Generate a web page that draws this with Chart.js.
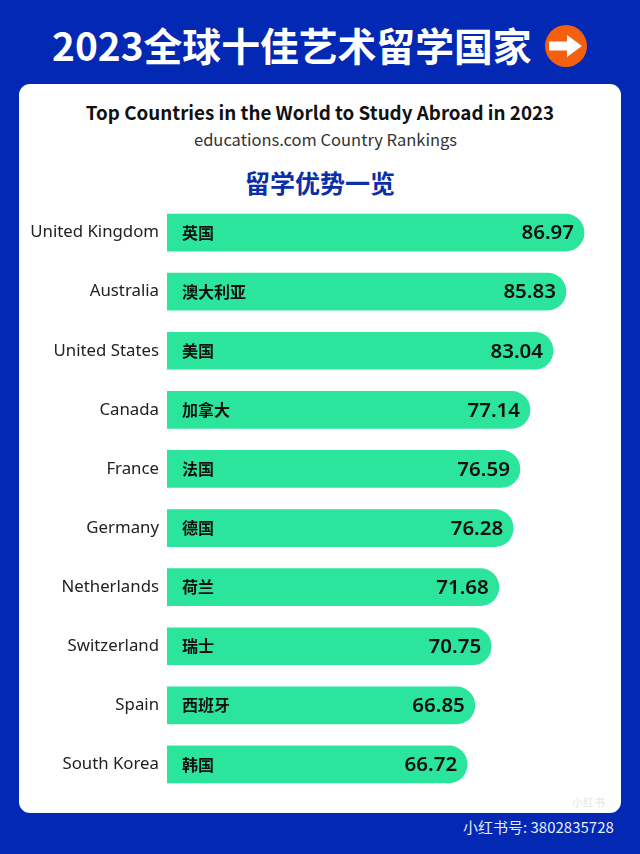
<!DOCTYPE html>
<html lang="zh">
<head>
<meta charset="utf-8">
<title>2023全球十佳艺术留学国家</title>
<script src="https://cdn.jsdelivr.net/npm/chart.js@4"></script>
<style>
    html, body { margin: 0; padding: 0; }
    body { position: relative; width: 640px; height: 854px; overflow: hidden; background: #0228b4; font-family: "Noto Sans CJK SC", "Noto Sans", sans-serif; }
    .abs { position: absolute; white-space: nowrap; line-height: 1; }
    .center { left: 0; width: 640px; text-align: center; }
    #headline { left: 52px; top: 25px; font-size: 38.8px; font-weight: 700; color: #fff; }
    #arrow { position: absolute; left: 544px; top: 25px; }
    #card { position: absolute; left: 19px; top: 84px; width: 602px; height: 729px; background: #fff; border-radius: 11px; }
    #title { top: 103px; font-size: 18.8px; font-weight: 700; color: #111; }
    #subtitle { left: 194px; top: 131px; font-size: 16.5px; color: #333; }
    #section { top: 170px; font-size: 25px; font-weight: 700; color: #0a2fa8; }
    #footer { left: 463px; top: 819px; font-size: 15px; color: #e6ecfa; }
    #mark { left: 572px; top: 797px; font-size: 11px; color: #e4e4e4; }
    canvas { position: absolute; left: 0; top: 0; }
</style>
</head>
<body>
<div id="headline" class="abs">2023全球十佳艺术留学国家</div>
<svg id="arrow" width="44" height="44" viewBox="0 0 44 44">
    <circle cx="22" cy="21" r="21" fill="#f4600f"/>
    <path d="M5 16.5H23V10L38 21L23 32V25.5H5Z" fill="#fff"/>
</svg>
<div id="card"></div>
<div id="title" class="abs center">Top Countries in the World to Study Abroad in 2023</div>
<div id="subtitle" class="abs">educations.com Country Rankings</div>
<div id="section" class="abs center">留学优势一览</div>
<div id="mark" class="abs">小红书</div>
<div id="footer" class="abs">小红书号: 3802835728</div>
<canvas id="rankChart" width="640" height="854"></canvas>

<script>
const countries = ['United Kingdom', 'Australia', 'United States', 'Canada', 'France', 'Germany', 'Netherlands', 'Switzerland', 'Spain', 'South Korea'];
const chineseNames = ['英国', '澳大利亚', '美国', '加拿大', '法国', '德国', '荷兰', '瑞士', '西班牙', '韩国'];
// Printed scores
const scores = ['86.97', '85.83', '83.04', '77.14', '76.59', '76.28', '71.68', '70.75', '66.85', '66.72'];
// Bar lengths as drawn in the picture; the original artwork is not strictly proportional to the scores
const barLengths = [86.97, 83.2, 80.5, 75.7, 73.6, 72.2, 69.2, 67.6, 64.2, 62.6];

// Writes the Chinese name at the start of each bar and the score at its end
const barTextPlugin = {
    id: 'barText',
    afterDatasetsDraw(chart) {
        const ctx = chart.ctx;
        ctx.save();
        ctx.fillStyle = '#111';
        ctx.textBaseline = 'middle';
        chart.getDatasetMeta(0).data.forEach(function(bar, i) {
            ctx.textAlign = 'left';
            ctx.font = '700 16px "Noto Sans CJK SC"';
            ctx.fillText(chineseNames[i], chart.chartArea.left + 15, bar.y);
            ctx.textAlign = 'right';
            ctx.font = '600 20.5px "Noto Sans"';
            ctx.fillText(scores[i], bar.x - 10, bar.y + 1);
        });
        ctx.restore();
    }
};

const rankCtx = document.getElementById('rankChart').getContext('2d');
const rankChart = new Chart(rankCtx, {
    type: 'bar',
    data: {
        labels: countries,
        datasets: [{
            data: barLengths,
            backgroundColor: '#2ce59d',
            barThickness: 37,
            borderSkipped: false,
            borderRadius: { topLeft: 0, bottomLeft: 0, topRight: 18.5, bottomRight: 18.5 }
        }]
    },
    plugins: [barTextPlugin],
    options: {
        indexAxis: 'y',
        responsive: false,
        animation: false,
        layout: {
            padding: { top: 203, bottom: 60, left: 0, right: 20 }
        },
        plugins: {
            legend: { display: false },
            title: { display: false },
            tooltip: { enabled: false }
        },
        scales: {
            x: {
                display: false,
                min: 0,
                max: 94.47
            },
            y: {
                afterFit: function(scale) {
                    scale.width = 167;
                },
                border: { display: false },
                grid: { display: false, drawTicks: false },
                ticks: {
                    padding: 8,
                    color: '#222',
                    font: { size: 16.8, family: 'Noto Sans' }
                }
            }
        }
    }
});
</script>
</body>
</html>
